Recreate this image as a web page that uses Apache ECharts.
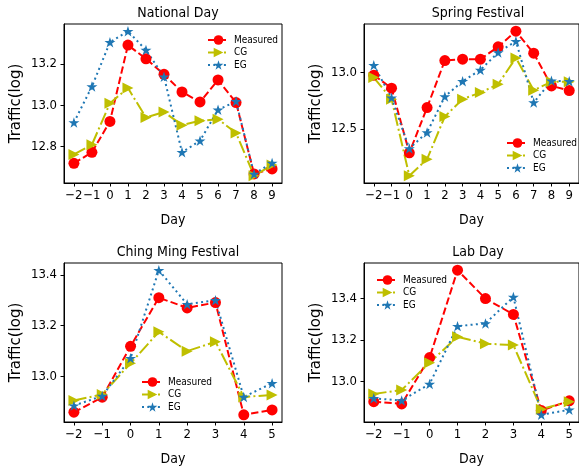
<!DOCTYPE html>
<html>
<head>
<meta charset="utf-8">
<script src="https://cdn.jsdelivr.net/npm/echarts@6/dist/echarts.min.js"></script>
<style>
  html, body { margin: 0; padding: 0; background: #fff; }
  #chart { width: 579px; height: 468px; }
</style>
</head>
<body>
<div id="chart"></div>
<script>
// day offsets
const daysLong = [-2, -1, 0, 1, 2, 3, 4, 5, 6, 7, 8, 9]
const daysShort = [-2, -1, 0, 1, 2, 3, 4, 5]

// National Day
const nationalMeasured = [12.72, 12.773, 12.922, 13.29, 13.224, 13.149, 13.064, 13.016, 13.122, 13.013, 12.669, 12.693]
const nationalCG = [12.763, 12.81, 13.01, 13.083, 12.941, 12.968, 12.904, 12.925, 12.933, 12.866, 12.66, 12.712]
const nationalEG = [12.917, 13.09, 13.304, 13.357, 13.266, 13.138, 12.773, 12.829, 12.978, 13.019, 12.669, 12.722]

// Spring Festival
const springMeasured = [12.974, 12.859, 12.288, 12.688, 13.103, 13.115, 13.115, 13.224, 13.362, 13.168, 12.879, 12.838]
const springCG = [12.953, 12.762, 12.085, 12.232, 12.609, 12.762, 12.82, 12.894, 13.126, 12.841, 12.915, 12.915]
const springEG = [13.062, 12.774, 12.326, 12.468, 12.785, 12.92, 13.02, 13.174, 13.274, 12.732, 12.924, 12.92]

// Ching Ming Festival
const chingMeasured = [12.86, 12.919, 13.119, 13.31, 13.27, 13.291, 12.85, 12.869]
const chingCG = [12.906, 12.93, 13.052, 13.176, 13.1, 13.137, 12.92, 12.928]
const chingEG = [12.886, 12.924, 13.072, 13.418, 13.284, 13.3, 12.92, 12.974]

// Lab Day
const labMeasured = [12.904, 12.893, 13.115, 13.534, 13.398, 13.322, 12.861, 12.908]
const labCG = [12.941, 12.96, 13.091, 13.215, 13.182, 13.175, 12.868, 12.904]
const labEG = [12.92, 12.909, 12.989, 13.266, 13.279, 13.406, 12.841, 12.865]

// y tick labels
const yTicksNational = [12.8, 13.0, 13.2]
const yTicksSpring = [12.5, 13.0]
const yTicksChing = [13.0, 13.2, 13.4]
const yTicksLab = [13.0, 13.2, 13.4]

const titles = ["National Day", "Spring Festival", "Ching Ming Festival", "Lab Day"]
const seriesNames = ["Measured", "CG", "EG"]

const panels = [
  { title: titles[0], days: daysLong, values: [nationalMeasured, nationalCG, nationalEG], yTicks: yTicksNational },
  { title: titles[1], days: daysLong, values: [springMeasured, springCG, springEG], yTicks: yTicksSpring },
  { title: titles[2], days: daysShort, values: [chingMeasured, chingCG, chingEG], yTicks: yTicksChing },
  { title: titles[3], days: daysShort, values: [labMeasured, labCG, labEG], yTicks: yTicksLab },
]

// the source picture is squeezed sideways a bit, so the condensed cut fits the horizontal text better
const FONT = "'DejaVu Sans Condensed', 'DejaVu Sans'"
const FONT_Y = "'DejaVu Sans'"
const STAR = "path://M0,-1 L0.2245,-0.309 L0.951,-0.309 L0.363,0.118 L0.588,0.809 L0,0.382 L-0.588,0.809 L-0.363,0.118 L-0.951,-0.309 L-0.2245,-0.309 Z"

const styles = [
  { color: "#ff0000", dash: [7.4, 3.2], symbol: "circle", size: 11, rotate: 0 },
  { color: "#bfbf00", dash: [12.8, 3.2, 2, 3.2], symbol: "triangle", size: 11, rotate: -90 },
  { color: "#1f77b4", dash: [2, 3.3], symbol: STAR, size: 11, rotate: 0 },
]

// grid boxes (matplotlib subplot areas)
const boxes = [
  { left: 64, top: 24 },
  { left: 364, top: 24 },
  { left: 64, top: 263 },
  { left: 364, top: 263 },
]
const boxW = 218
const boxH = 159

const legendPos = [
  { left: 202, top: 30 },
  { left: 501, top: 133 },
  { left: 136, top: 372 },
  { left: 371, top: 270 },
]

// matplotlib-style 5% margins
const padRange = (arr) => {
  const lo = Math.min(...arr)
  const hi = Math.max(...arr)
  const m = (hi - lo) * 0.05
  return [lo - m, hi + m]
}

const minus = (s) => String(s).replace("-", "\u2212")

const chart = echarts.init(document.getElementById("chart"), null, { renderer: "canvas" })

const option = {
  animation: false,
  backgroundColor: "#fff",
  title: [],
  legend: [],
  grid: [],
  xAxis: [],
  yAxis: [],
  series: [],
}

panels.forEach((p, i) => {
  const b = boxes[i]
  option.grid.push({
    left: b.left, top: b.top, width: boxW, height: boxH,
    show: true, borderColor: "#000", borderWidth: 1, backgroundColor: "transparent",
  })
  option.title.push({
    text: p.title,
    left: b.left + boxW / 2,
    top: b.top - 23,
    textAlign: "center",
    textStyle: { fontFamily: FONT, fontSize: 14, fontWeight: "normal", color: "#000" },
  })
  const xr = padRange(p.days)
  const yr = padRange([].concat(...p.values))
  option.xAxis.push({
    type: "value", gridIndex: i, min: xr[0], max: xr[1],
    name: "Day", nameLocation: "middle", nameGap: 30,
    nameTextStyle: { fontFamily: FONT, fontSize: 14, color: "#000" },
    axisLine: { show: true, onZero: false, lineStyle: { color: "#000", width: 1 } },
    axisTick: { show: true, length: 3.5, customValues: p.days, lineStyle: { color: "#000" } },
    axisLabel: { customValues: p.days, formatter: minus, fontFamily: FONT, fontSize: 13, color: "#000", margin: 6 },
    splitLine: { show: false },
  })
  option.yAxis.push({
    type: "value", gridIndex: i, min: yr[0], max: yr[1],
    name: "Traffic(log)", nameLocation: "middle", nameGap: 40,
    nameTextStyle: { fontFamily: FONT_Y, fontSize: 15, color: "#000" },
    axisLine: { show: true, onZero: false, lineStyle: { color: "#000", width: 1 } },
    axisTick: { show: true, length: 3.5, customValues: p.yTicks, lineStyle: { color: "#000" } },
    axisLabel: { customValues: p.yTicks, formatter: (v) => v.toFixed(1), fontFamily: FONT, fontSize: 13, color: "#000", margin: 7 },
    splitLine: { show: false },
  })
  option.legend.push({
    orient: "vertical",
    left: legendPos[i].left, top: legendPos[i].top,
    itemWidth: 21, itemHeight: 12, itemGap: 2.5,
    textStyle: { fontFamily: FONT, fontSize: 10, color: "#000" },
    data: seriesNames,
  })
  p.values.forEach((vals, k) => {
    const s = styles[k]
    option.series.push({
      name: seriesNames[k],
      type: "line",
      xAxisIndex: i, yAxisIndex: i,
      data: p.days.map((d, j) => [d, vals[j]]),
      symbol: s.symbol, symbolSize: s.size, symbolRotate: s.rotate, symbolKeepAspect: true,
      showAllSymbol: true,
      itemStyle: { color: s.color },
      lineStyle: { color: s.color, width: 2, type: s.dash },
      emphasis: { disabled: true },
    })
  })
})

chart.setOption(option)

window.addEventListener("resize", () => chart.resize())
</script>
</body>
</html>
